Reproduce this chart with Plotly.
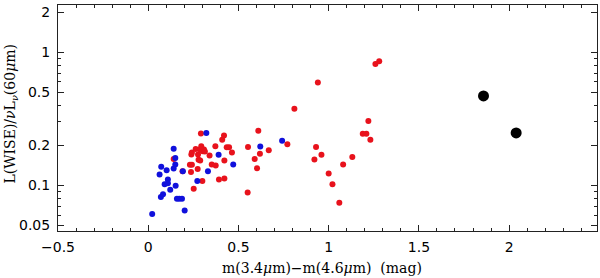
import plotly.graph_objects as go

# Data
blue_x = [0.022, 0.063, 0.072, 0.070, 0.082, 0.102, 0.091, 0.109, 0.109, 0.122, 0.141, 0.141,
          0.150, 0.150, 0.152, 0.159, 0.172, 0.187, 0.202, 0.192, 0.272, 0.322, 0.331, 0.390,
          0.471, 0.621, 0.742]
blue_y = [0.061, 0.121, 0.138, 0.082, 0.086, 0.130, 0.102, 0.111, 0.104, 0.093, 0.189, 0.134,
          0.144, 0.161, 0.0995, 0.0795, 0.0795, 0.0795, 0.065, 0.128, 0.108, 0.248, 0.128, 0.170,
          0.144, 0.196, 0.217]

red_x = [0.141, 0.190, 0.252, 0.231, 0.237, 0.242, 0.239, 0.242, 0.263, 0.274, 0.276, 0.279,
         0.288, 0.292, 0.287, 0.294, 0.302, 0.309, 0.300, 0.314, 0.340, 0.352, 0.372, 0.374,
         0.392, 0.410, 0.420, 0.422, 0.422, 0.435, 0.448, 0.464, 0.551, 0.553, 0.590, 0.603,
         0.610, 0.619, 0.668, 0.771, 0.810, 0.940, 0.930, 0.921, 0.960, 1.000, 1.021, 1.059,
         1.080, 1.131, 1.189, 1.209, 1.220, 1.231, 1.259, 1.280]
red_y = [0.158, 0.128, 0.0945, 0.143, 0.126, 0.143, 0.171, 0.177, 0.188, 0.133, 0.171, 0.156,
         0.154, 0.246, 0.186, 0.197, 0.181, 0.186, 0.108, 0.180, 0.168, 0.144, 0.197, 0.141,
         0.111, 0.221, 0.237, 0.113, 0.154, 0.194, 0.194, 0.177, 0.0887, 0.195, 0.158, 0.135,
         0.258, 0.173, 0.184, 0.204, 0.377, 0.593, 0.195, 0.157, 0.170, 0.123, 0.102, 0.0742,
         0.144, 0.164, 0.245, 0.245, 0.305, 0.221, 0.818, 0.857]

black_x = [1.858, 2.039]
black_y = [0.471, 0.248]

x_tickvals = [-0.5, 0, 0.5, 1, 1.5, 2]
x_ticktext = ["\u22120.5", "0", "0.5", "1", "1.5", "2"]
y_tickvals = [0.05, 0.1, 0.2, 0.5, 1, 2]
y_ticktext = ["0.05", "0.1", "0.2", "0.5", "1", "2"]
y_minorvals = [0.06, 0.07, 0.08, 0.09, 0.3, 0.4, 0.6, 0.7, 0.8, 0.9]

x_title = "m(3.4<i>\u03bc</i>m)\u2212m(4.6<i>\u03bc</i>m)  (mag)"
y_title = "L(WISE)/<i>\u03bd</i>L<sub><i>\u03bd</i></sub>(60<i>\u03bc</i>m)"

fig = go.Figure()
fig.add_trace(go.Scatter(x=red_x, y=red_y, mode="markers",
                         marker=dict(color="#e8121c", size=6, line=dict(width=0))))
fig.add_trace(go.Scatter(x=blue_x, y=blue_y, mode="markers",
                         marker=dict(color="#1010dc", size=6, line=dict(width=0))))
fig.add_trace(go.Scatter(x=black_x, y=black_y, mode="markers",
                         marker=dict(color="black", size=11, line=dict(width=0))))

tickfont = dict(family="DejaVu Sans, sans-serif", size=14, color="black")
titlefont = dict(family="DejaVu Serif, serif", size=14, color="black")

fig.update_layout(
    width=600, height=278,
    margin=dict(l=58, r=3, t=5, b=47, autoexpand=False),
    paper_bgcolor="white", plot_bgcolor="white",
    showlegend=False,
    xaxis=dict(
        range=[-0.5, 2.487], showgrid=False, zeroline=False, automargin=False,
        showline=True, linecolor="#222", linewidth=1, mirror="allticks",
        ticks="inside", ticklen=6, tickcolor="#222", tickwidth=1,
        tickvals=x_tickvals, ticktext=x_ticktext, tickfont=tickfont,
        ticklabelstandoff=3,
        minor=dict(dtick=0.1, tick0=0, ticks="inside", ticklen=3, tickcolor="#222", showgrid=False),
    ),
    yaxis=dict(
        type="log", range=[-1.342, 0.356], showgrid=False, zeroline=False, automargin=False,
        showline=True, linecolor="#222", linewidth=1, mirror="allticks",
        ticks="inside", ticklen=6, tickcolor="#222", tickwidth=1,
        tickvals=y_tickvals, ticktext=y_ticktext, tickfont=tickfont,
        ticklabelstandoff=4,
        minor=dict(tickvals=y_minorvals, ticks="inside", ticklen=3, tickcolor="#222", showgrid=False),
    ),
    annotations=[
        dict(text=x_title, xref="paper", yref="paper", x=0.49, y=-0.162,
             xanchor="center", yanchor="middle", showarrow=False, font=titlefont, borderpad=0),
        dict(text=y_title, xref="paper", yref="paper", x=-0.087, y=0.52, textangle=-90,
             xanchor="center", yanchor="middle", showarrow=False, font=titlefont, borderpad=0),
    ],
)

fig.write_html("out.html", config={"displayModeBar": False},
               post_script="document.body.style.margin='0';document.body.style.overflow='hidden';")
